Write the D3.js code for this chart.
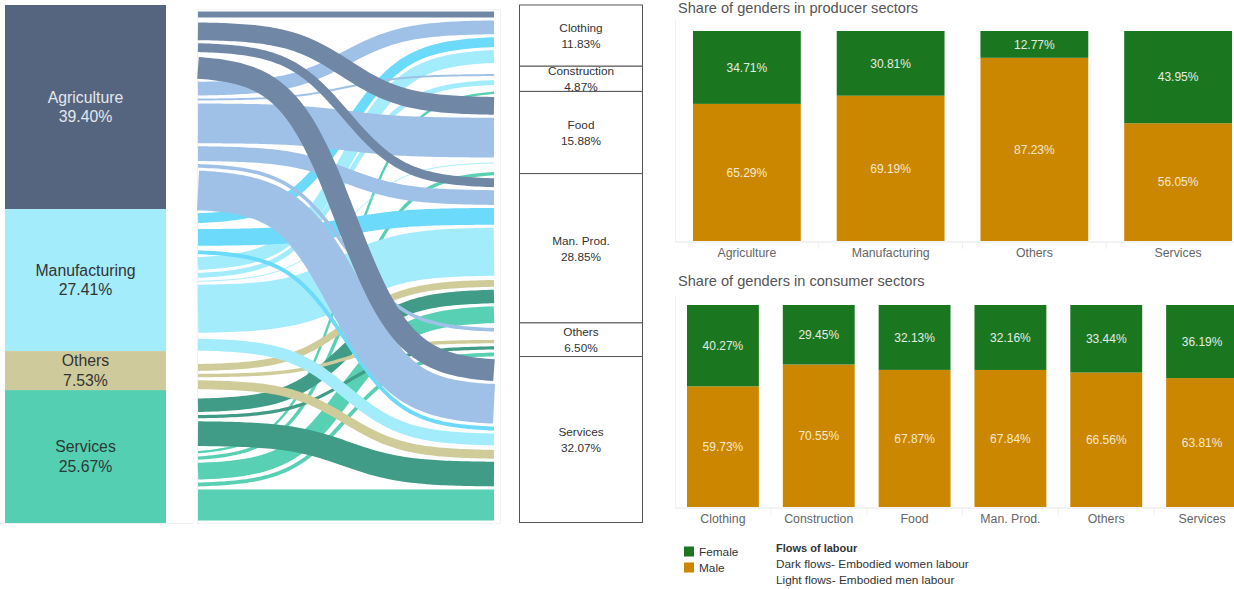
<!DOCTYPE html>
<html>
<head>
<meta charset="utf-8">
<script src="https://cdn.jsdelivr.net/npm/d3@7"></script>
<style>
  html, body { margin: 0; padding: 0; background: #ffffff; }
  svg { display: block; }
</style>
</head>
<body>
<svg id="chart" width="1234" height="589"></svg>
<script>
// ---- producer (source) sectors and their share of total labour ----
const producers = ["Agriculture", "Manufacturing", "Others", "Services"];
const producerShare = [39.40, 27.41, 7.53, 25.67];

// ---- consumer (destination) sectors and their share of total labour ----
const consumers = ["Clothing", "Construction", "Food", "Man. Prod.", "Others", "Services"];
const consumerShare = [11.83, 4.87, 15.88, 28.85, 6.50, 32.07];

// ---- embodied labour flows (% of total), one value per consumer sector ----
const flowAgricultureFemale   = [1.74, 0.39, 4.05, 2.32, 0.39, 4.83];
const flowAgricultureMale     = [3.28, 0.97, 8.35, 3.47, 1.29, 8.32];
const flowManufacturingFemale = [2.51, 0.19, 0.39, 3.86, 0.29, 1.35];
const flowManufacturingMale   = [3.07, 1.54, 0.77, 9.96, 0.58, 2.90];
const flowOthersFemale        = [0.10, 0.06, 0.14, 0.23, 0.15, 0.29];
const flowOthersMale          = [0.35, 0.37, 0.35, 1.93, 1.25, 2.31];
const flowServicesFemale      = [0.39, 0.29, 0.58, 3.22, 1.22, 5.41];
const flowServicesMale        = [0.39, 1.06, 1.25, 3.86, 1.33, 6.67];

// ---- gender shares in producer sectors ----
const producerFemale = [34.71, 30.81, 12.77, 43.95];
const producerMale   = [65.29, 69.19, 87.23, 56.05];

// ---- gender shares in consumer sectors ----
const consumerFemale = [40.27, 29.45, 32.13, 32.16, 33.44, 36.19];
const consumerMale   = [59.73, 70.55, 67.87, 67.84, 66.56, 63.81];

const genders = ["Female", "Male"];
const flowNotes = ["Dark flows- Embodied women labour", "Light flows- Embodied men labour"];

// ---- styling ----
const FONT = "'Liberation Sans', Arial, sans-serif";
const nodeColor = { Agriculture: "#56657f", Manufacturing: "#a3ecfc", Others: "#cfca9b", Services: "#55cfb1" };
const nodeText  = { Agriculture: "#e3e7ee", Manufacturing: "#333333", Others: "#333333", Services: "#2b3a36" };
const flowColor = {
  Agriculture:   { Female: "#7087a6", Male: "#a0c1e7" },
  Manufacturing: { Female: "#6bdafb", Male: "#a3ecfb" },
  Others:        { Female: "#cfcc9a", Male: "#cfcc9a" },
  Services:      { Female: "#419c87", Male: "#57d0b3" }
};
const genderColor = { Female: "#1b771f", Male: "#cc8700" };

const svg = d3.select("#chart").style("font-family", FONT);

// ================= Sankey: producer nodes =================
const yLeft = d3.scaleLinear().domain([0, 100]).range([5, 523]);
const leftNodes = [];
{
  let acc = 0;
  producers.forEach((p, i) => {
    leftNodes.push({ name: p, value: producerShare[i], v0: acc, v1: acc + producerShare[i] });
    acc += producerShare[i];
  });
}
const gLeft = svg.append("g");
gLeft.selectAll("rect").data(leftNodes).join("rect")
  .attr("x", 5).attr("width", 161)
  .attr("y", d => yLeft(d.v0)).attr("height", d => yLeft(d.v1) - yLeft(d.v0))
  .attr("fill", d => nodeColor[d.name]);
const leftLabels = gLeft.selectAll("g.lab").data(leftNodes).join("g").attr("class", "lab")
  .attr("transform", d => `translate(85.5,${(yLeft(d.v0) + yLeft(d.v1)) / 2})`)
  .attr("fill", d => nodeText[d.name]).attr("font-size", 15.8).attr("text-anchor", "middle");
leftLabels.append("text").attr("y", -4.5).text(d => d.name);
leftLabels.append("text").attr("y", 15).text(d => d.value.toFixed(2) + "%");

// faint container lines
svg.append("line").attr("x1", 0).attr("x2", 194).attr("y1", 523.5).attr("y2", 523.5)
  .attr("stroke", "#f0f0f0");
svg.append("rect").attr("x", 197.5).attr("y", 9.5).attr("width", 303).attr("height", 514)
  .attr("fill", "none").attr("stroke", "#f2f2f2");

// ================= Sankey: flows =================
const flowTable = [
  { producer: "Agriculture",   gender: "Female", values: flowAgricultureFemale },
  { producer: "Agriculture",   gender: "Male",   values: flowAgricultureMale },
  { producer: "Manufacturing", gender: "Female", values: flowManufacturingFemale },
  { producer: "Manufacturing", gender: "Male",   values: flowManufacturingMale },
  { producer: "Others",        gender: "Female", values: flowOthersFemale },
  { producer: "Others",        gender: "Male",   values: flowOthersMale },
  { producer: "Services",      gender: "Female", values: flowServicesFemale },
  { producer: "Services",      gender: "Male",   values: flowServicesMale }
];
const flows = [];
flowTable.forEach((row, ri) => row.values.forEach((v, ci) => {
  flows.push({ producer: row.producer, gender: row.gender, row: ri, consumer: consumers[ci], col: ci, value: v });
}));
// stack on the producer side: producer -> gender -> consumer
{
  let acc = 0;
  flows.forEach(f => { f.l0 = acc; acc += f.value; f.l1 = acc; });
}
// stack on the consumer side: consumer -> producer -> gender
{
  let acc = 0;
  consumers.forEach((c, ci) => {
    flows.filter(f => f.col === ci).sort((a, b) => a.row - b.row)
      .forEach(f => { f.r0 = acc; acc += f.value; f.r1 = acc; });
  });
}
const yFlow = d3.scaleLinear().domain([0, 100]).range([10, 522]);
const xFlow = d3.scaleLinear().domain([0, 1]).range([198, 494]);
const PAD = 3;
const SPREAD = 5;
const sig = t => 1 / (1 + Math.exp(-t));
const ease = u => (sig(-SPREAD + 2 * SPREAD * u) - sig(-SPREAD)) / (sig(SPREAD) - sig(-SPREAD));
const flowLine = d3.line().x(d => d[0]).y(d => d[1]);
const steps = d3.range(0, 1.0001, 1 / 80);
function flowPath(f) {
  const ya = (yFlow(f.l0) + yFlow(f.l1)) / 2;
  const yb = (yFlow(f.r0) + yFlow(f.r1)) / 2;
  return flowLine(steps.map(u => [xFlow(u), ya + (yb - ya) * ease(u)]));
}
// later producers are painted first, so agriculture flows sit on top
const drawOrder = flows.slice().sort((a, b) => (b.row - a.row) || (a.col - b.col));
svg.append("g").selectAll("path").data(drawOrder.filter(f => yFlow(f.l1) - yFlow(f.l0) > PAD + 0.3)).join("path")
  .attr("d", flowPath)
  .attr("fill", "none")
  .attr("stroke", f => flowColor[f.producer][f.gender])
  .attr("stroke-width", f => yFlow(f.l1) - yFlow(f.l0) - PAD)
  .attr("stroke-linecap", "butt");

// ================= Sankey: consumer nodes =================
const yRight = d3.scaleLinear().domain([0, 100]).range([5, 522.5]);
const rightNodes = [];
{
  let acc = 0;
  consumers.forEach((c, i) => {
    rightNodes.push({ name: c, value: consumerShare[i], v0: acc, v1: acc + consumerShare[i] });
    acc += consumerShare[i];
  });
}
const gRight = svg.append("g");
gRight.selectAll("rect").data(rightNodes).join("rect")
  .attr("x", 519.5).attr("width", 123)
  .attr("y", d => yRight(d.v0)).attr("height", d => yRight(d.v1) - yRight(d.v0))
  .attr("fill", "#ffffff").attr("stroke", "#555555").attr("stroke-width", 1);
const rightLabels = gRight.selectAll("g.lab").data(rightNodes).join("g").attr("class", "lab")
  .attr("transform", d => `translate(581,${(yRight(d.v0) + yRight(d.v1)) / 2})`)
  .attr("fill", "#333333").attr("font-size", 11.8).attr("text-anchor", "middle");
rightLabels.append("text").attr("y", -3.5).text(d => d.name);
rightLabels.append("text").attr("y", 12.5).text(d => d.value.toFixed(2) + "%");

// ================= Stacked gender bars =================
function genderBars(cfg) {
  const g = svg.append("g");
  const x = d3.scaleBand().domain(cfg.categories).range([675, 1250]).paddingInner(0.25).paddingOuter(0.125);
  const y = d3.scaleLinear().domain([0, 100]).range([cfg.bottom, cfg.top]);
  g.append("text").attr("x", 678).attr("y", cfg.titleY).attr("font-size", 14.6)
    .attr("fill", "#555555").text(cfg.title);
  // faint frame: left edge
  g.append("line").attr("x1", 675.5).attr("x2", 675.5).attr("y1", cfg.frameTop).attr("y2", cfg.bottom + 1)
    .attr("stroke", "#f0f0f0");
  const rows = cfg.categories.map((c, i) => ({ cat: c, female: cfg.female[i], male: cfg.male[i] }));
  const bars = g.selectAll("g.bar").data(rows).join("g").attr("class", "bar");
  bars.append("rect").attr("x", d => x(d.cat)).attr("width", x.bandwidth())
    .attr("y", d => y(d.male)).attr("height", d => y(0) - y(d.male)).attr("fill", genderColor.Male);
  bars.append("rect").attr("x", d => x(d.cat)).attr("width", x.bandwidth())
    .attr("y", d => y(d.male + d.female)).attr("height", d => y(d.male) - y(d.male + d.female))
    .attr("fill", genderColor.Female);
  bars.append("text").attr("x", d => x(d.cat) + x.bandwidth() / 2)
    .attr("y", d => (y(d.male) + y(d.male + d.female)) / 2 + 4.2)
    .attr("text-anchor", "middle").attr("font-size", 12).attr("fill", "#e4ece4")
    .text(d => d.female.toFixed(2) + "%");
  bars.append("text").attr("x", d => x(d.cat) + x.bandwidth() / 2)
    .attr("y", d => (y(0) + y(d.male)) / 2 + 4.2)
    .attr("text-anchor", "middle").attr("font-size", 12).attr("fill", "#f6e8cc")
    .text(d => d.male.toFixed(2) + "%");
  // category axis
  const axis = d3.axisBottom(x).tickSize(0).tickPadding(6.5);
  const ga = g.append("g").attr("transform", `translate(0,${cfg.bottom + 0.5})`).call(axis);
  ga.select(".domain").attr("stroke", "#e6e6e6");
  ga.selectAll("text").attr("font-size", 12.3).attr("fill", "#666666").attr("font-family", FONT);
  // separators between categories
  const step = x.step();
  g.selectAll("line.sep").data(cfg.categories.slice(1)).join("line").attr("class", "sep")
    .attr("x1", d => x(d) - (step - x.bandwidth()) / 2).attr("x2", d => x(d) - (step - x.bandwidth()) / 2)
    .attr("y1", cfg.bottom + 1).attr("y2", cfg.bottom + 8).attr("stroke", "#efefef");
}

genderBars({
  title: "Share of genders in producer sectors", titleY: 12.5,
  categories: producers, female: producerFemale, male: producerMale,
  top: 31, bottom: 241, frameTop: 20
});
genderBars({
  title: "Share of genders in consumer sectors", titleY: 286,
  categories: consumers, female: consumerFemale, male: consumerMale,
  top: 305, bottom: 507, frameTop: 296
});

// ================= Legend =================
const gl = svg.append("g").attr("font-size", 11.8).attr("fill", "#333333");
genders.forEach((gname, i) => {
  gl.append("rect").attr("x", 684).attr("y", 546.5 + i * 16).attr("width", 10).attr("height", 10)
    .attr("fill", genderColor[gname]);
  gl.append("text").attr("x", 699).attr("y", 556 + i * 16).text(gname);
});
gl.append("text").attr("x", 776).attr("y", 552).attr("font-weight", "bold").attr("font-size", 11).text("Flows of labour");
flowNotes.forEach((t, i) => gl.append("text").attr("x", 776).attr("y", 568 + i * 16).text(t));
</script>
</body>
</html>
